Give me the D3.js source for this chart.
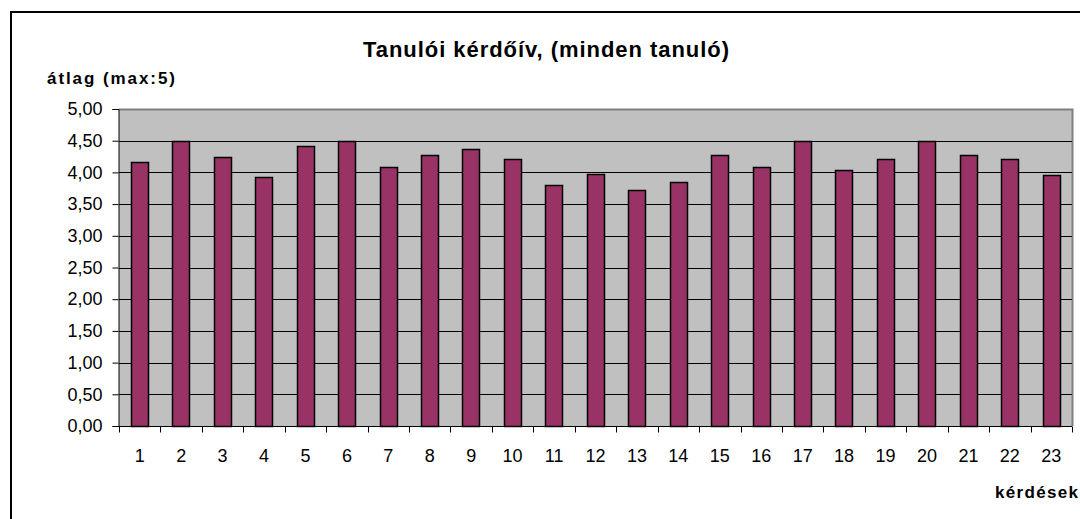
<!DOCTYPE html>
<html>
<head>
<meta charset="utf-8">
<script src="https://cdn.jsdelivr.net/npm/d3@7"></script>
<style>
  body { margin: 0; background: #fff; }
  svg { display: block; font-family: Arial, "Liberation Sans", sans-serif; }
</style>
</head>
<body>
<script>
// question numbers and average scores (max 5)
const questions = d3.range(1, 24).map(String);
const averages = [4.16, 4.50, 4.25, 3.92, 4.42, 4.50, 4.09, 4.27, 4.37, 4.21, 3.80, 3.97,
                  3.73, 3.85, 4.27, 4.09, 4.50, 4.04, 4.21, 4.50, 4.27, 4.21, 3.96];
const yTicks = d3.range(0, 5.01, 0.5);

const width = 1080, height = 519;
const margin = {top: 109, right: 8, bottom: 93, left: 119};

const svg = d3.select("body").append("svg")
    .attr("width", width)
    .attr("height", height);

// outer chart frame
svg.append("rect")
    .attr("x", 11).attr("y", 12)
    .attr("width", width + 20).attr("height", height + 20)
    .attr("fill", "none")
    .attr("stroke", "#000")
    .attr("stroke-width", 2);

const x = d3.scaleBand()
    .domain(questions)
    .range([margin.left, width - margin.right])
    .paddingInner(0.58)
    .paddingOuter(0.29);

const y = d3.scaleLinear([0, 5], [height - margin.bottom, margin.top]);

const plot = svg.append("g");

plot.append("rect")
    .attr("x", margin.left).attr("y", margin.top)
    .attr("width", width - margin.right - margin.left)
    .attr("height", y(0) - margin.top)
    .attr("fill", "#c0c0c0");

// top + right edge of the plot area
plot.append("path")
    .attr("d", `M${margin.left},${margin.top + 0.5}H${width - margin.right + 0.5}V${y(0)}`)
    .attr("fill", "none")
    .attr("stroke", "#808080")
    .attr("stroke-width", 2);

plot.append("g")
    .selectAll("line")
    .data(yTicks.filter(d => d > 0 && d < 5))
    .join("line")
      .attr("x1", margin.left).attr("x2", width - margin.right)
      .attr("y1", d => Math.round(y(d)) + 0.5).attr("y2", d => Math.round(y(d)) + 0.5)
      .attr("stroke", "#000");

plot.append("g")
    .selectAll("rect")
    .data(averages)
    .join("rect")
      .attr("x", (d, i) => Math.round(x(questions[i])) + 0.5)
      .attr("y", d => Math.round(y(d)) + 0.5)
      .attr("width", Math.round(x.bandwidth()))
      .attr("height", d => Math.round(y(0)) - Math.round(y(d)))
      .attr("fill", "#993366")
      .attr("stroke", "#000")
      .attr("stroke-width", 1.5);

// y axis
const yAxis = svg.append("g")
    .attr("transform", `translate(${margin.left - 0.5},0)`)
    .call(d3.axisLeft(y).tickValues(yTicks).tickSize(6).tickPadding(10)
      .tickFormat(d => d3.format(".2f")(d).replace(".", ",")));
yAxis.selectAll("text").attr("font-size", 18).attr("fill", "#000").attr("font-family", "Arial, 'Liberation Sans', sans-serif");
yAxis.selectAll("line, path").attr("stroke", "#000");

// x axis: labels centered in bands, ticks between bands
const xAxis = svg.append("g")
    .attr("transform", `translate(0,${Math.round(y(0)) + 0.5})`);
xAxis.append("line")
    .attr("x1", margin.left).attr("x2", width - margin.right)
    .attr("stroke", "#000");
xAxis.selectAll(".tk")
    .data(d3.range(questions.length + 1))
    .join("line")
      .attr("class", "tk")
      .attr("x1", i => Math.round(margin.left + i * x.step()) + 0.5)
      .attr("x2", i => Math.round(margin.left + i * x.step()) + 0.5)
      .attr("y1", 0).attr("y2", 6)
      .attr("stroke", "#000");
xAxis.selectAll("text")
    .data(questions)
    .join("text")
      .attr("x", d => x(d) + x.bandwidth() / 2)
      .attr("y", 35)
      .attr("text-anchor", "middle")
      .attr("font-size", 18)
      .text(d => d);

svg.append("text")
    .attr("x", 546).attr("y", 57)
    .attr("text-anchor", "middle")
    .attr("font-size", 22).attr("font-weight", "bold")
    .attr("textLength", 366).attr("lengthAdjust", "spacing")
    .text("Tanulói kérdőív, (minden tanuló)");

svg.append("text")
    .attr("x", 47).attr("y", 84)
    .attr("font-size", 17).attr("font-weight", "bold")
    .attr("textLength", 128).attr("lengthAdjust", "spacing")
    .text("átlag (max:5)");

svg.append("text")
    .attr("x", 995).attr("y", 498)
    .attr("font-size", 17).attr("font-weight", "bold")
    .attr("textLength", 83).attr("lengthAdjust", "spacing")
    .text("kérdések");
</script>
</body>
</html>
